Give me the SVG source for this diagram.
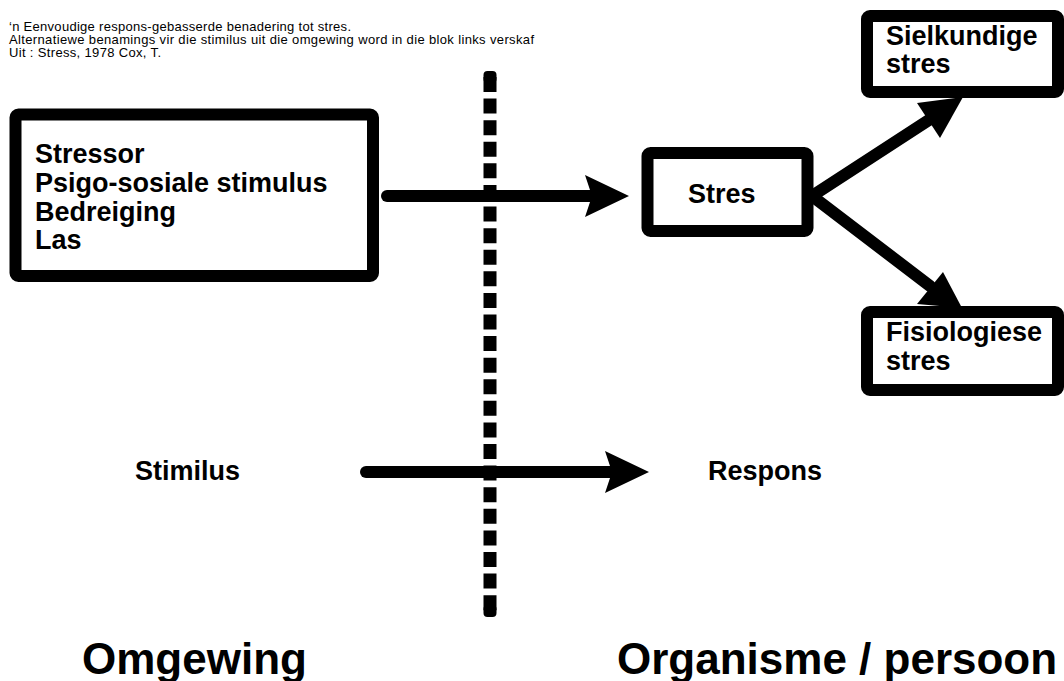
<svg xmlns="http://www.w3.org/2000/svg" width="1064" height="681" viewBox="0 0 1064 681">
<style>
.box{fill:#fff;stroke:#000;stroke-width:12;}
.t{font-family:"Liberation Sans",Arial,sans-serif;font-weight:bold;font-size:27px;fill:#000;}
.big{font-family:"Liberation Sans",Arial,sans-serif;font-weight:bold;font-size:44px;fill:#000;}
.small{font-family:"Liberation Sans",Arial,sans-serif;font-size:13px;fill:#000;}
.shaft{stroke:#000;stroke-width:12;fill:none;stroke-linecap:round;}
.head{fill:#000;}
</style>
<rect width="1064" height="681" fill="#fff"/>
<g id="header">
<text class="small" x="9" y="31" textLength="342" lengthAdjust="spacing">‘n Eenvoudige respons-gebasserde benadering tot stres.</text>
<text class="small" x="9" y="44" textLength="525" lengthAdjust="spacing">Alternatiewe benamings vir die stimilus uit die omgewing word in die blok links verskaf</text>
<text class="small" x="9" y="57" textLength="152" lengthAdjust="spacing">Uit : Stress, 1978 Cox, T.</text>
</g>
<g id="divider">
<line x1="490" y1="77" x2="490" y2="611" stroke="#000" stroke-width="13" stroke-dasharray="15 6.59"/>
<rect x="483.5" y="71" width="13" height="12" rx="4" fill="#000"/>
<rect x="483.5" y="605" width="13" height="12" rx="4" fill="#000"/>
</g>
<g id="connectors">
<line class="shaft" x1="387" y1="196" x2="595" y2="196"/>
<polygon class="head" points="629,196 585,175 592,196 585,217"/>
<line class="shaft" x1="366" y1="472" x2="612" y2="472"/>
<polygon class="head" points="649,472 605,451 612,472 605,493"/>
<line class="shaft" x1="812" y1="196" x2="932" y2="118"/>
<polygon class="head" points="963,97 917,103 928.5,120.5 940,138"/>
<line class="shaft" x1="812" y1="196" x2="930" y2="286"/>
<polygon class="head" points="962,308 943,272 930,288 917,304"/>
</g>
<g id="node-stressor">
<rect class="box" x="15.5" y="114.5" width="357.5" height="161.5" rx="3" stroke-width="13"/>
<text class="t" x="35" y="163">Stressor</text>
<text class="t" x="35" y="192">Psigo-sosiale stimulus</text>
<text class="t" x="35" y="221">Bedreiging</text>
<text class="t" x="35" y="249">Las</text>
</g>
<g id="node-stres">
<rect class="box" x="647.5" y="153" width="160" height="78" rx="3"/>
<text class="t" x="688" y="203">Stres</text>
</g>
<g id="node-sielkundige">
<rect class="box" x="867" y="16" width="191" height="76" rx="3"/>
<text class="t" x="886" y="45">Sielkundige</text>
<text class="t" x="886" y="73">stres</text>
</g>
<g id="node-fisiologiese">
<rect class="box" x="867" y="312" width="191" height="78" rx="3"/>
<text class="t" x="886" y="341">Fisiologiese</text>
<text class="t" x="886" y="370">stres</text>
</g>
<g id="labels">
<text class="t" x="135" y="480">Stimilus</text>
<text class="t" x="708" y="480">Respons</text>
<text class="big" x="82" y="674" font-size="43">Omgewing</text>
<text class="big" x="617" y="674">Organisme / persoon</text>
</g>
</svg>
